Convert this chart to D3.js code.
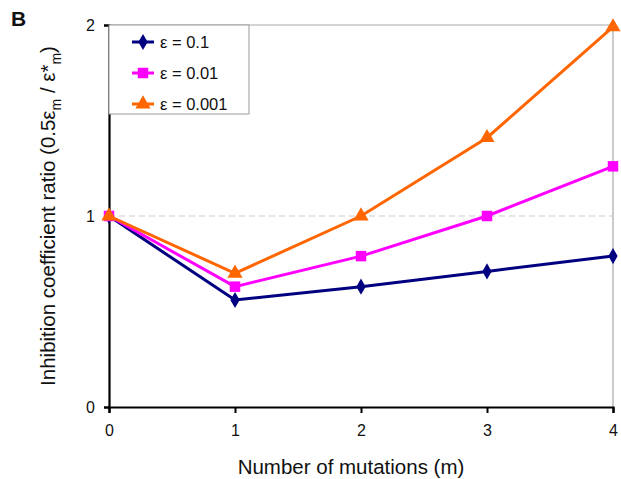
<!DOCTYPE html>
<head>
  <meta charset="utf-8">
  <script src="https://d3js.org/d3.v7.min.js"></script>
  <style>
    body { margin:0; background:#fff; }
    svg { display:block; }
    text { font-family: "Liberation Sans", Arial, sans-serif; fill:#111; }
  </style>
</head>
<body>
  <svg width="621" height="479"></svg>
  <script>
    var mutations = [0, 1, 2, 3, 4];
    var eps01 = [1, 0.56, 0.63, 0.71, 0.79];
    var eps001 = [1, 0.63, 0.79, 1.0, 1.26];
    var eps0001 = [1, 0.70, 1.0, 1.41, 1.99];
    var seriesNames = ['ε = 0.1', 'ε = 0.01', 'ε = 0.001'];
    var yTicks = [0, 1, 2];

    var series = [
      {name: seriesNames[0], values: eps01, color: '#000080', symbol: d3.symbolDiamond, size: 75},
      {name: seriesNames[1], values: eps001, color: '#ff00ff', symbol: d3.symbolSquare, size: 110},
      {name: seriesNames[2], values: eps0001, color: '#ff6600', symbol: d3.symbolTriangle, size: 100}
    ];

    var margin = {top: 25, right: 8, bottom: 72, left: 109};
    var width = 621, height = 479;
    var svg = d3.select('svg');

    var x = d3.scaleLinear().domain([0, 4]).range([margin.left, width - margin.right]);
    var y = d3.scaleLinear().domain([0, 2]).range([height - margin.bottom, margin.top]);

    // grey frame top/right
    svg.append('path')
      .attr('d', 'M' + x(0) + ',' + y(2) + 'H' + x(4) + 'V' + y(0))
      .attr('fill', 'none').attr('stroke', '#aaa').attr('stroke-width', 1.2);

    // reference line at 1
    svg.append('line')
      .attr('x1', x(0)).attr('x2', x(4))
      .attr('y1', y(1)).attr('y2', y(1))
      .attr('stroke', '#ccc').attr('stroke-width', 1.2)
      .attr('stroke-dasharray', '6,4');

    var xAxis = svg.append('g')
      .attr('transform', 'translate(0,' + y(0) + ')')
      .call(d3.axisBottom(x).tickValues(mutations).tickFormat(d3.format('d')).tickSize(6).tickPadding(12));
    var yAxis = svg.append('g')
      .attr('transform', 'translate(' + x(0) + ',0)')
      .call(d3.axisLeft(y).tickValues(yTicks).tickFormat(d3.format('d')).tickSize(5).tickPadding(9));

    [xAxis, yAxis].forEach(function(g) {
      g.select('.domain').attr('stroke', '#000').attr('stroke-width', 2.2);
      g.selectAll('.tick line').attr('stroke', '#000').attr('stroke-width', 2);
      g.selectAll('.tick text').style('font-family', '"Liberation Sans", Arial, sans-serif')
        .style('font-size', '16px').attr('fill', '#222');
    });

    var line = d3.line()
      .x(function(d, i) { return x(mutations[i]); })
      .y(function(d) { return y(d); });

    series.forEach(function(s) {
      svg.append('path')
        .datum(s.values)
        .attr('d', line)
        .attr('fill', 'none')
        .attr('stroke', s.color)
        .attr('stroke-width', 3);
    });
    series.forEach(function(s) {
      svg.selectAll(null)
        .data(s.values)
        .enter().append('path')
        .attr('d', d3.symbol().type(s.symbol).size(s.size))
        .attr('transform', function(d, i) { return 'translate(' + x(mutations[i]) + ',' + y(d) + ')'; })
        .attr('fill', s.color);
    });

    // legend
    var legend = svg.append('g');
    legend.append('rect')
      .attr('x', x(0)).attr('y', y(2))
      .attr('width', 140).attr('height', 89)
      .attr('fill', '#fff').attr('stroke', '#999').attr('stroke-width', 1);
    series.forEach(function(s, i) {
      var ly = 42 + i * 31;
      legend.append('line')
        .attr('x1', 132).attr('x2', 154).attr('y1', ly).attr('y2', ly)
        .attr('stroke', s.color).attr('stroke-width', 3);
      legend.append('path')
        .attr('d', d3.symbol().type(s.symbol).size(s.size))
        .attr('transform', 'translate(143,' + ly + ')')
        .attr('fill', s.color);
      legend.append('text')
        .attr('x', 160).attr('y', ly).attr('dy', '0.35em')
        .style('font-size', '16.5px')
        .text(s.name);
    });

    // axis titles
    svg.append('text')
      .attr('x', (x(0) + x(4)) / 2 - 10).attr('y', 474)
      .attr('text-anchor', 'middle')
      .style('font-size', '20.5px')
      .text('Number of mutations (m)');

    var yt = svg.append('text')
      .attr('transform', 'translate(55,' + 216 + ') rotate(-90)')
      .attr('text-anchor', 'middle')
      .style('font-size', '20.5px');
    yt.append('tspan').text('Inhibition coefficient ratio (0.5ε');
    yt.append('tspan').attr('dy', 6).style('font-size', '14px').text('m');
    yt.append('tspan').attr('dy', -6).text(' / ε*');
    yt.append('tspan').attr('dy', 6).style('font-size', '14px').text('m');
    yt.append('tspan').attr('dy', -6).text(')');

    svg.append('text')
      .attr('x', 11).attr('y', 26)
      .style('font-size', '21px').style('font-weight', 'bold')
      .text('B');
  </script>
</body>
